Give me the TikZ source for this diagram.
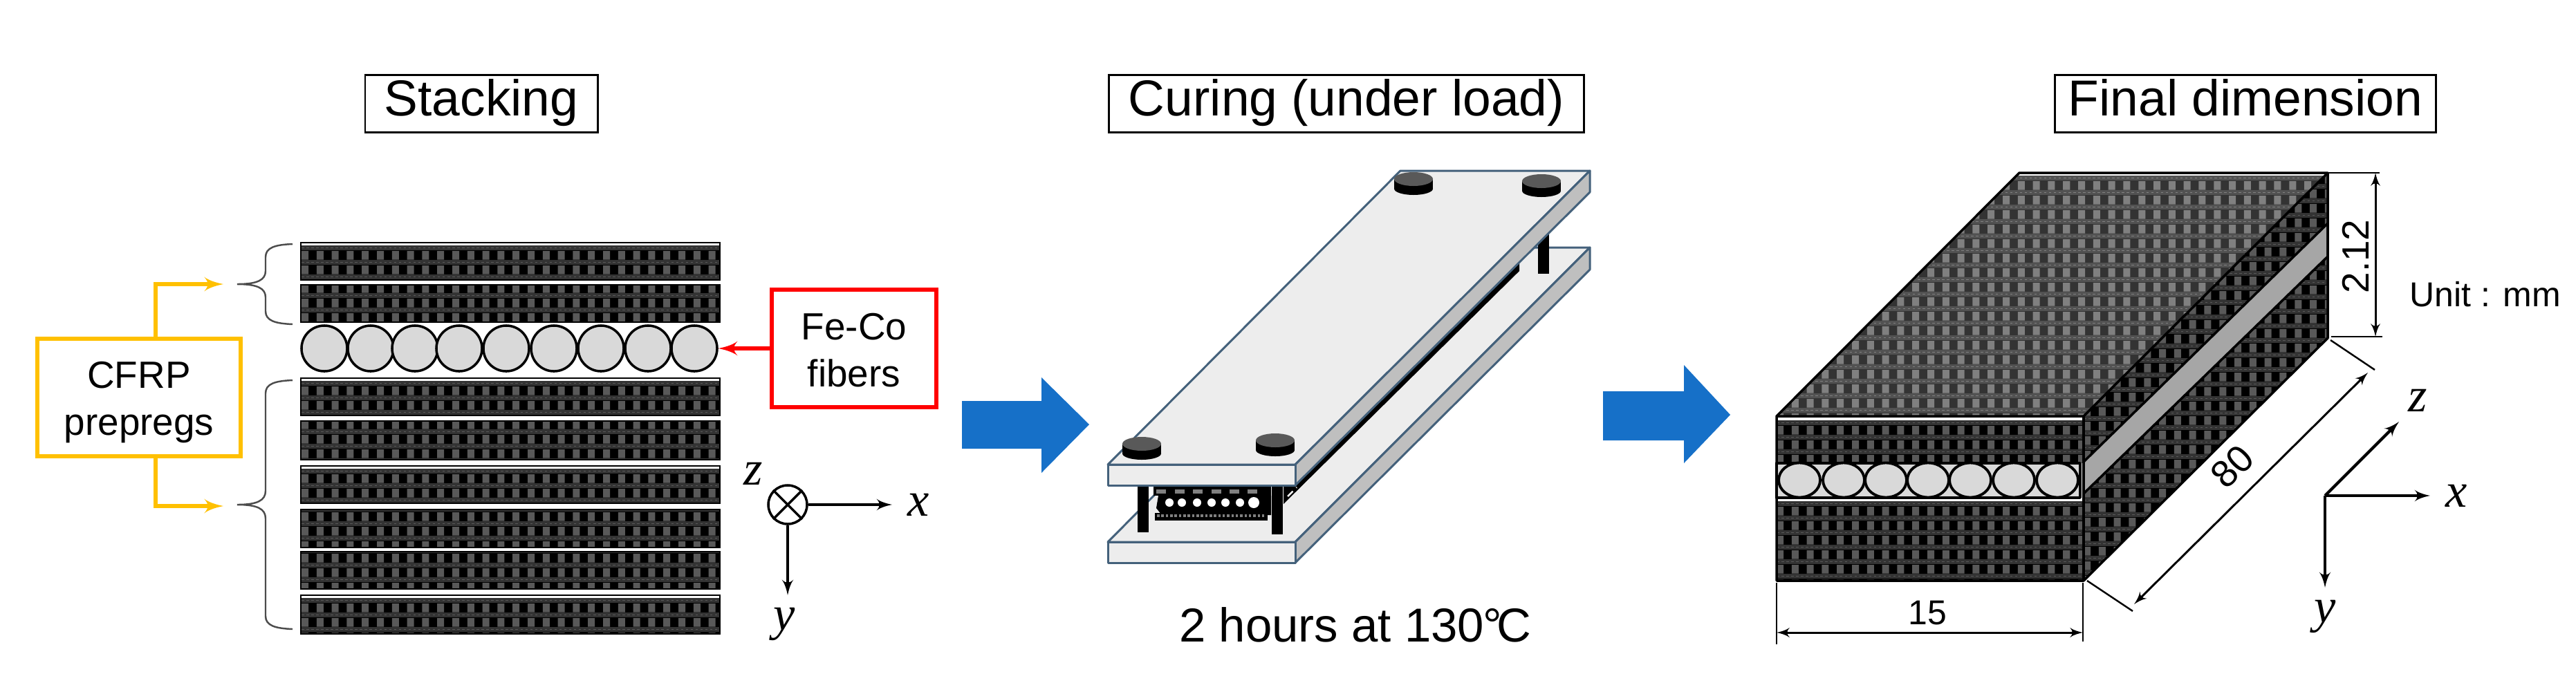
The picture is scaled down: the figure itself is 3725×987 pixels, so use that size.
\documentclass[tikz,border=0pt]{standalone}
\usepackage{fontspec}
\setmainfont{Liberation Sans}
\newfontfamily\axisfont{Liberation Serif}
\usepackage{tikz}
\usetikzlibrary{arrows, positioning, shapes}

\definecolor{prepregyellow}{HTML}{FFC000}
\definecolor{processblue}{HTML}{1670C8}
\definecolor{plateline}{HTML}{44617B}
\definecolor{platetop}{HTML}{EDEDED}
\definecolor{plateside}{HTML}{BFBFBF}
\definecolor{fibergray}{HTML}{D9D9D9}
\definecolor{stripgray}{HTML}{A6A6A6}

\newcommand{\weave}[8]{%
	\begin{scope}
	\clip #1;
	\fill [#6] (#2,#3) rectangle (#4,#5);
	\pgfmathsetmacro{\nextwx}{#2+21.8}
	\pgfmathsetmacro{\nextwy}{#3+21}
	\foreach \wy in {#3,\nextwy,...,#5} {
		\fill [#7] (#2,\wy) rectangle (#4,\wy+7);
		\draw [#8, line width=0.5pt, dash pattern=on 1pt off 1pt] (#2,\wy+3.5) -- (#4,\wy+3.5);
	}
	\fill [#8] \foreach \wy in {#3,\nextwy,...,#5} {
		\foreach \wx in {#2,\nextwx,...,#4} {
			(\wx,\wy+8) rectangle ++(10,12.5)
		}
	};
	\end{scope}
}

\tikzset{
	titlebox/.style={draw, line width=0.8pt, minimum height=0.83cm, inner ysep=0pt, text height=14.5pt, text depth=4.5pt, font=\fontsize{20.8}{25}\selectfont},
	labelbox/.style={draw, line width=1.7pt, align=center, font=\fontsize{15.6}{19.4}\selectfont},
	fiber/.style={circle, draw, fill=fibergray, line width=1pt, inner sep=0pt},
	plate/.style={draw=plateline, line width=0.85pt, line join=round},
	dim/.style={line width=0.85pt, latex'-latex'},
	axis/.style={line width=1.2pt, -latex'},
	axislabel/.style={font=\axisfont\itshape\fontsize{20}{24}\selectfont},
	dimlabel/.style={font=\fontsize{14.2}{17}\selectfont},
	edgeline/.style={line width=1pt, line join=round}
}

\begin{document}
\begin{tikzpicture}[x=0.01cm, y=-0.01cm]

\useasboundingbox (0,0) rectangle (3725,987);

% titles
\node [titlebox, minimum width=3.36cm] (stacking) at (696,150) {Stacking};
\node [titlebox, minimum width=6.86cm] (curing) at (1947,150) {Curing (under load)};
\node [titlebox, minimum width=5.5cm] (final) at (3247,150) {Final dimension};

% stacking
\foreach \top/\bot/\phase in {351/405/355, 412/466/403, 547/601/551, 609/665/600, 674/728/678, 737/792/733, 798/852/793, 861/917/865} {
	\weave{(435,\top) rectangle (1041,\bot)}{436}{\phase}{1041}{\bot}{black}{black!80}{black!65}
	\draw [line width=0.8pt] (435,\top) rectangle (1041,\bot);
}

\foreach \i/\cx in {1/469, 2/536, 3/600, 4/664, 5/732, 6/801, 7/869, 8/937, 9/1004} {
	\node [fiber, minimum size=0.66cm] (f\i) at (\cx,504) {};
}

\coordinate (upperbrace) at (323,411);
\coordinate (lowerbrace) at (323,732);
\draw [black!70, line width=0.7pt] (423,353) .. controls (398,354) and (384,358) .. (384,372) -- (384,392) .. controls (384,405) and (372,411) .. (343,411) .. controls (372,411) and (384,417) .. (384,430) -- (384,450) .. controls (384,464) and (398,468) .. (423,469);
\draw [black!70, line width=0.7pt] (423,550) .. controls (398,551) and (384,555) .. (384,569) -- (384,710) .. controls (384,724) and (372,730) .. (343,730) .. controls (372,730) and (384,736) .. (384,750) -- (384,891) .. controls (384,905) and (398,909) .. (423,910);

\node [labelbox, draw=prepregyellow, minimum width=2.93cm, minimum height=1.69cm] (cfrp) at (201,575) {\rule{0pt}{15pt}CFRP \\ prepregs};
\node [labelbox, draw=red, minimum width=2.38cm, minimum height=1.69cm] (fibers) at (1235,504) {\rule{0pt}{12.5pt}Fe-Co \\ fibers};

\path [draw=prepregyellow, line width=1.7pt, -latex'] ([xshift=0.24cm]cfrp.north) |- (upperbrace);
\path [draw=prepregyellow, line width=1.7pt, -latex'] ([xshift=0.24cm]cfrp.south) |- (lowerbrace);
\path [draw=red, line width=1.7pt, -latex'] (fibers) -- (f9);

\node [circle, draw, line width=1pt, minimum size=0.56cm, inner sep=0pt] (zin) at (1139,730) {};
\draw [line width=1pt] (zin.45) -- (zin.225) (zin.135) -- (zin.-45);
\coordinate (xtip) at (1290,730);
\coordinate (ytip) at (1139,861);
\draw [axis] (zin.east) -- (xtip);
\draw [axis] (zin.south) -- (ytip);
\node [axislabel] (zleft) at (1089,685) {z};
\node [axislabel] (xleft) at (1328,730) {x};
\node [axislabel] (yleft) at (1134,903) {y};

% process arrows
\fill [processblue] (1391,580) -- (1506,580) -- (1506,546) -- (1575,614) -- (1506,684) -- (1506,649) -- (1391,649) -- cycle;
\fill [processblue] (2318,566) -- (2435,566) -- (2435,528) -- (2502,600) -- (2435,670) -- (2435,637) -- (2318,637) -- cycle;

% curing
\filldraw [plate, fill=platetop] (1602,784) -- (2025,358) -- (2299,358) -- (1873,784) -- cycle;
\filldraw [plate, fill=plateside] (1873,784) -- (2299,358) -- (2299,390) -- (1873,814) -- cycle;
\filldraw [plate, fill=platetop] (1602,784) rectangle (1873,814);

\fill [black] (1856,729) -- (2197,392) -- (2197,360) -- (1856,700) -- cycle;
\draw [white, line width=0.7pt, dash pattern=on 3pt off 2pt] (1862,718) -- (1875,705);
\fill [black] (2224,330) rectangle (2240,396);

\fill [black] (1668,703) rectangle (1838,717);
\fill [black] (1675,717) -- (1838,717) -- (1838,745) -- (1680,745) -- (1672,735) -- cycle;
\fill [black] (1670,742) rectangle (1833,753);
\foreach \cx in {1672, 1699, 1725, 1752, 1778, 1804} {
	\fill [black!50] (\cx,708) rectangle ++(14,6);
}
\foreach \cx/\rad in {1691/6, 1709/6, 1731/6, 1752/6, 1772/6, 1793/6, 1813/8} {
	\fill [white] (\cx,727) circle [radius=\rad];
}
\draw [black!50, line width=1pt, dash pattern=on 1pt off 0.8pt] (1673,746) -- (1830,746);
\fill [black] (1645,702) rectangle (1661,770);
\fill [black] (1839,702) rectangle (1855,773);

\filldraw [plate, fill=platetop] (1602,672) -- (2025,247) -- (2299,247) -- (1873,672) -- cycle;
\filldraw [plate, fill=plateside] (1873,672) -- (2299,247) -- (2299,278) -- (1873,702) -- cycle;
\filldraw [plate, fill=platetop] (1602,672) rectangle (1873,702);

\foreach \cx/\cy in {1651/642, 1844/637, 2044/259, 2229/262} {
	\fill [black] (\cx-28,\cy) rectangle (\cx+28,\cy+14);
	\fill [black] (\cx,\cy+14) ellipse [x radius=28, y radius=9];
	\fill [black!65] (\cx,\cy) ellipse [x radius=28, y radius=10];
}

\node [font=\fontsize{19.6}{23}\selectfont] (cure) at (1960,904) {2 hours at 130\kern-0.5pt°\kern-2pt C};

% final dimension
\weave{(2569,602) -- (3013,602) -- (3366,250) -- (2920,250) -- cycle}{2569}{254}{3366}{602}{black!80}{black!68}{black!50}
\weave{(3013,602) -- (3366,250) -- (3366,323) -- (3013,668) -- cycle}{3013}{245}{3366}{668}{black}{black!80}{black!65}
\weave{(3013,714) -- (3366,371) -- (3366,489) -- (3013,840) -- cycle}{3013}{363}{3366}{840}{black}{black!80}{black!65}
\weave{(2569,602) rectangle (3013,669)}{2569}{608}{3013}{669}{black}{black!80}{black!65}
\weave{(2569,720) rectangle (3013,840)}{2569}{725}{3013}{840}{black}{black!80}{black!65}
\filldraw [edgeline, fill=stripgray] (3013,668) -- (3366,323) -- (3366,371) -- (3013,714) -- cycle;
\filldraw [edgeline, fill=fibergray] (2569,670) rectangle (3008,720);
\foreach \i/\cx in {1/2602, 2/2666, 3/2727, 4/2788, 5/2849, 6/2912, 7/2975} {
	\filldraw [black, line width=1.1pt, fill=fibergray] (\cx,694.5) ellipse [x radius=30, y radius=25];
}
\draw [edgeline] (2569,602) -- (2920,250) -- (3366,250) -- (3366,489) -- (3013,840) -- (2569,840) -- cycle;
\draw [edgeline] (2569,602) -- (3013,602) -- (3366,250);
\draw [edgeline] (3013,602) -- (3013,840);

\coordinate (dimtop) at (3435,250);
\coordinate (dimbot) at (3435,487);
\draw [line width=0.7pt] (3367,250) -- (3441,250);
\draw [line width=0.7pt] (3371,487) -- (3445,487);
\draw [dim] (dimtop) -- (dimbot);
\node [dimlabel, font=\fontsize{15.6}{19}\selectfont, rotate=90] (height) at (3406,371) {2.12};
\node [dimlabel] (unit) at (3594,426) {Unit : mm};

\coordinate (widthl) at (2569,915);
\coordinate (widthr) at (3012,915);
\draw [line width=0.7pt] (2569,843) -- (2569,932);
\draw [line width=0.7pt] (3012,843) -- (3012,928);
\draw [dim] (widthl) -- (widthr);
\node [dimlabel] (width) at (2787,887) {15};

\coordinate (lenf) at (3086,874);
\coordinate (lenb) at (3424,539);
\draw [line width=0.7pt] (3370,492) -- (3434,535);
\draw [line width=0.7pt] (3018,840) -- (3084,884);
\draw [dim] (lenf) -- (lenb);
\node [dimlabel, font=\fontsize{15.6}{19}\selectfont, rotate=45] (length) at (3228,675) {80};

\coordinate (origin) at (3362,717);
\node [axislabel] (zright) at (3496,579) {z};
\node [axislabel] (xright) at (3552,717) {x};
\node [axislabel] (yright) at (3362,892) {y};
\coordinate (xend) at (3514,717);
\coordinate (yend) at (3362,850);
\coordinate (zend) at (3469,610);
\draw [axis] (origin) -- (xend);
\draw [axis] (origin) -- (yend);
\draw [axis] (origin) -- (zend);

\end{tikzpicture}
\end{document}
